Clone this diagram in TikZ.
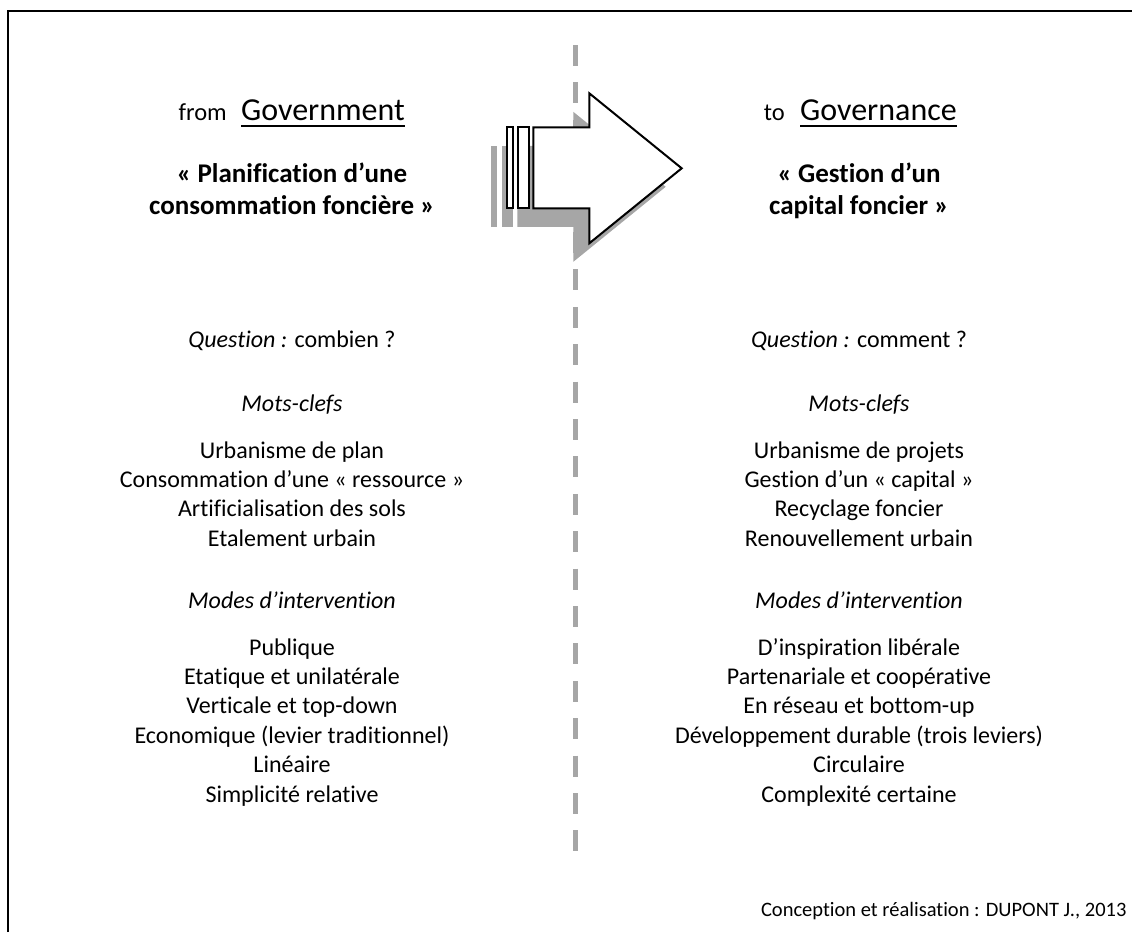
\documentclass[tikz,border=0pt]{standalone}
\usepackage{fontspec}
\setmainfont{Carlito}[Ligatures=NoCommon]
\definecolor{shadegray}{HTML}{A6A6A6}
\begin{document}
\begin{tikzpicture}[x=1pt,y=-1pt,
  body/.style={inner sep=0pt, anchor=base, font=\fontsize{24}{29}\selectfont},
  bodyit/.style={inner sep=0pt, anchor=base, font=\fontsize{24}{29}\selectfont\itshape},
  headb/.style={inner sep=0pt, anchor=base, font=\fontsize{27}{32}\selectfont\bfseries},
  bigword/.style={inner sep=0pt, anchor=base west, font=\fontsize{32}{38}\selectfont},
  smallword/.style={inner sep=0pt, anchor=base east, font=\fontsize{24.5}{29}\selectfont},
  foot/.style={inner sep=0pt, anchor=base east, font=\fontsize{20.5}{25}\selectfont},
  arrowshape/.style={line width=2pt, line join=miter},
  divider/.style={draw=shadegray, line width=5pt, dash pattern=on 21pt off 16.4pt}
]
\useasboundingbox (0,0) rectangle (1132,932);
% frame
\draw[line width=2.5pt] (8,932) -- (8,11) -- (1132,11);
% dashed divider
\coordinate (dtop) at (575,45);
\coordinate (dbot) at (575,851);
\draw[divider] (dtop) -- (dbot);
% arrow shadow
\begin{scope}[shift={(-16,18.5)}]
  \fill[shadegray] (533.3,127.3) -- (589.3,127.3) -- (589.3,93.3) -- (681.7,168.3) -- (589.3,243.3) -- (589.3,208.3) -- (533.3,208.3) -- cycle;
  \fill[shadegray] (506.7,127.3) rectangle (513.3,208.3);
  \fill[shadegray] (517.7,127.3) rectangle (529.3,208.3);
\end{scope}
% arrow
\draw[arrowshape, fill=white] (533.3,127.3) -- (589.3,127.3) -- (589.3,93.3) -- (681.7,168.3) -- (589.3,243.3) -- (589.3,208.3) -- (533.3,208.3) -- cycle;
\draw[arrowshape, fill=white] (506.7,127.3) rectangle (513.3,208.3);
\draw[arrowshape, fill=white] (517.7,127.3) rectangle (529.3,208.3);

% left title
\node[smallword] (from) at (227,120) {from};
\node[bigword] (gov) at (241,120) {Government};
\draw[line width=2pt] ([yshift=-5.7pt]gov.base west) -- ([yshift=-5.7pt]gov.base east);
\node[headb] (lh1) at (292,182) {« Planification d’une};
\node[headb] (lh2) at (292,214) {consommation foncière »};
% right title
\node[smallword] (to) at (785,120) {to};
\node[bigword] (gce) at (800,120) {Governance};
\draw[line width=2pt] ([yshift=-5.7pt]gce.base west) -- ([yshift=-5.7pt]gce.base east);
\node[headb] (rh1) at (859,182) {« Gestion d’un};
\node[headb] (rh2) at (859,214) {capital foncier »};

% questions
\node[body] (lq) at (292,347) {\textit{Question :} combien ?};
\node[body] (rq) at (859,347) {\textit{Question :} comment ?};
\node[bodyit] (lm) at (292,411) {Mots-clefs};
\node[bodyit] (rm) at (859,411) {Mots-clefs};

\foreach \t [count=\i from 0] in {Urbanisme de plan, Consommation d’une « ressource », Artificialisation des sols, Etalement urbain}
  \node[body] (lk\i) at (292,458+29.4*\i) {\t};
\foreach \t [count=\i from 0] in {Urbanisme de projets, Gestion d’un « capital », Recyclage foncier, Renouvellement urbain}
  \node[body] (rk\i) at (859,458+29.4*\i) {\t};

\node[bodyit] (lmi) at (292,608) {Modes d’intervention};
\node[bodyit] (rmi) at (859,608) {Modes d’intervention};

\foreach \t [count=\i from 0] in {Publique, Etatique et unilatérale, Verticale et top-down, Economique (levier traditionnel), Linéaire, Simplicité relative}
  \node[body] (lp\i) at (292,655+29.4*\i) {\t};
\foreach \t [count=\i from 0] in {D’inspiration libérale, Partenariale et coopérative, En réseau et bottom-up, Développement durable (trois leviers), Circulaire, Complexité certaine}
  \node[body] (rp\i) at (859,655+29.4*\i) {\t};

\node[foot] (credit) at (1126.7,916) {Conception et réalisation : DUPONT J., 2013};
\end{tikzpicture}
\end{document}
